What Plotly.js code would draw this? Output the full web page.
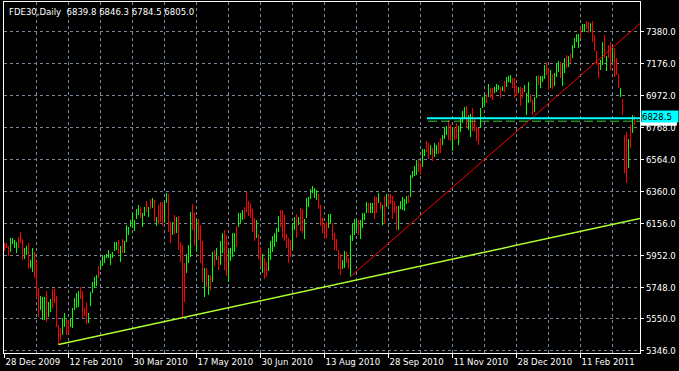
<!DOCTYPE html>
<html>
<head>
<meta charset="utf-8">
<script src="https://cdn.plot.ly/plotly-3.0.1.min.js"></script>
<style>html,body{margin:0;padding:0;background:#000;}#chart{width:679px;height:371px;}</style>
</head>
<body>
<div id="chart"></div>
<script>
const symbol = "FDE30";
const period = "Daily";

const open = [
6021,6027,6008,5989,6034,6008,5983,6059,6091,6047,
5945,5970,6015,5881,5881,5964,5900,5722,5620,5562,
5575,5709,5575,5607,5722,5728,5677,5499,5480,5461,
5511,5537,5531,5505,5511,5620,5632,5639,5741,5709,
5613,5639,5531,5645,5722,5754,5766,5875,5868,5894,
5913,5945,5945,
5906,5945,5989,5996,6040,5926,6047,5983,6053,6091,
6142,6142,6117,6193,6218,6250,6148,6212,6289,6206,
6301,6263,6295,6148,6263,6282,6282,6174,6295,6327,
6155,6097,6199,6110,6193,6027,6008,5894,5855,5919,
5970,6263,6212,5996,6174,6136,6034,5709,5862,5715,
5817,5798,5977,
5938,5938,5906,5983,6097,6066,5805,5926,5957,5989,
6129,6142,6168,6187,6257,6346,6295,6276,6238,6180,
6072,6078,5996,5855,5926,5900,5868,5938,5989,6015,
6047,6110,6231,6231,6199,6078,6053,6040,6002,6123,
6206,6155,6244,6238,6072,6206,6270,6320,6359,6327,
6314,6340,
6263,6180,6148,6155,6136,6168,6148,6085,6047,5977,
5951,5875,5887,5964,5926,5843,6059,6097,6123,6168,
6072,6136,6187,6231,6282,6231,6231,6320,6314,6295,
6289,6161,6320,6270,6333,6340,6320,6295,6257,6129,
6257,6250,6244,6289,6333,6333,6454,6467,6473,6556,
6543,6524,6595,
6677,6658,6601,6626,6595,6607,6671,6690,6665,6703,
6728,6805,6773,6633,6767,6786,6671,6747,6805,6837,
6894,6760,6722,6881,6824,6760,6754,6779,6900,6919,
6977,6970,7015,7015,6996,7002,7015,7021,7009,7060,
7034,7066,7060,7079,7079,7021,6996,7015,7015,7002,
6862,6939,6977,6932,6881,6970,7098,7028,7066,7085,
7181,7130,7034,7098,7040,7098,7130,7181,7047,7123,
7225,7161,7232,7219,7283,7321,7283,7404,7384,7384,
7442,7435,7384,7442,7346,7251,7181,7142,7181,7346,
7136,7289,7302,7193,7263,7200,7098,6970,6939,6703,
6728,6524,6773,6747,6839.8
];

const high = [
6034,6034,6015,6066,6066,6053,6040,6072,6104,6059,
6002,6015,6034,5926,6002,5977,5919,5747,5696,5690,
5690,5728,5658,5677,5741,5741,5696,5511,5492,5556,
5588,5550,5543,5550,5620,5683,5715,5728,5754,5728,
5620,5652,5588,5722,5785,5817,5830,5887,5913,5951,
5957,5964,5989,
5964,5977,6040,6040,6053,6015,6059,6047,6148,6136,
6180,6225,6180,6250,6276,6263,6225,6263,6301,6263,
6314,6320,6308,6199,6276,6295,6295,6295,6352,6346,
6168,6168,6212,6199,6206,6040,6021,5906,5964,6021,
6231,6282,6225,6187,6187,6148,6047,5875,5875,5830,
5830,5977,5989,
6002,5951,6047,6097,6117,6085,5996,6002,6097,6097,
6142,6225,6225,6244,6263,6359,6301,6289,6250,6193,
6180,6091,6008,5964,5938,5913,6002,6047,6078,6097,
6129,6206,6244,6244,6212,6091,6066,6053,6161,6199,
6218,6199,6257,6250,6187,6320,6327,6378,6397,6384,
6371,6346,
6276,6193,6161,6168,6218,6218,6161,6097,6059,5989,
5964,5926,5983,5977,5938,6085,6155,6187,6180,6180,
6180,6225,6225,6295,6289,6289,6289,6333,6327,6352,
6295,6276,6333,6346,6340,6346,6333,6301,6270,6270,
6301,6327,6314,6333,6340,6467,6492,6524,6563,6563,
6550,6633,6633,
6684,6671,6658,6639,6671,6658,6677,6703,6722,6773,
6779,6817,6786,6773,6773,6798,6779,6830,6875,6900,
6907,6849,6856,6894,6830,6773,6767,6894,6964,6977,
6983,7047,7021,7021,7028,7047,7040,7028,7034,7066,
7091,7098,7104,7085,7085,7028,7028,7028,7021,7040,
6989,7060,6983,6945,6964,7098,7104,7098,7098,7168,
7187,7142,7136,7110,7117,7174,7193,7187,7181,7212,
7232,7225,7238,7295,7340,7365,7365,7410,7429,7429,
7448,7442,7435,7448,7359,7257,7187,7200,7314,7359,
7225,7295,7314,7283,7276,7212,7110,7021,6951,6722,
6741,6696,6786,6849,6846.3
];

const low = [
5983,6002,5951,5977,6027,6002,5970,6002,6034,5926,
5932,5957,5868,5875,5849,5811,5683,5562,5607,5543,
5543,5531,5562,5594,5620,5652,5499,5384,5416,5448,
5499,5448,5454,5499,5492,5607,5620,5626,5677,5556,
5569,5518,5524,5632,5715,5747,5760,5811,5862,5887,
5906,5938,5938,
5894,5938,5983,5989,5964,5913,5970,5970,6040,6085,
6136,6129,6110,6187,6212,6193,6136,6206,6231,6199,
6250,6257,6168,6142,6155,6168,6142,6161,6289,6104,
6034,6085,6091,6097,5989,5913,5556,5658,5843,5906,
5945,6117,6015,5977,6053,5906,5785,5690,5754,5703,
5734,5785,5887,
5926,5862,5894,5970,5862,5824,5785,5919,5945,5977,
6008,6136,6161,6180,6187,6231,6206,6193,6104,6047,
6066,5932,5881,5843,5805,5817,5855,5926,5977,6008,
6040,6104,6136,6066,6047,6002,5906,5945,5989,6117,
6066,6148,6110,6097,6059,6193,6263,6314,6352,6320,
6308,6250,
6142,6097,6059,6066,6129,6161,6053,5989,5983,5868,
5830,5868,5875,5906,5868,5817,6047,6085,6117,6085,
6059,6129,6180,6225,6225,6225,6225,6187,6225,6289,
6250,6148,6155,6263,6270,6282,6187,6225,6117,6117,
6250,6244,6238,6282,6289,6327,6448,6461,6467,6486,
6467,6518,6588,
6614,6569,6595,6556,6582,6601,6601,6607,6658,6696,
6722,6690,6684,6620,6690,6696,6658,6741,6798,6830,
6767,6754,6709,6747,6747,6684,6658,6767,6894,6913,
6926,6964,6958,6945,6989,6996,7009,6958,7002,6996,
7028,7060,7053,7021,6958,6970,6989,6907,6958,6996,
6849,6926,6932,6849,6868,6958,7040,7021,7060,7079,
7104,7009,7021,7015,7034,7091,7123,7085,7034,7117,
7149,7155,7181,7212,7276,7314,7276,7340,7378,7378,
7397,7372,7378,7314,7257,7168,7085,7136,7168,7212,
7130,7212,7136,7187,7091,7104,7021,6964,6849,6480,
6416,6512,6639,6735,6784.5
];

const close = [
5996,6008,5964,6053,6059,6047,6027,6015,6047,5945,
5989,6002,5887,5913,5983,5830,5709,5594,5683,5677,
5671,5550,5645,5664,5632,5664,5518,5403,5429,5543,
5575,5461,5467,5543,5607,5671,5703,5715,5690,5575,
5575,5531,5581,5709,5773,5805,5817,5824,5900,5938,
5945,5957,5983,
5957,5970,6034,6034,5977,6002,5983,6034,6136,6123,
6174,6212,6168,6238,6263,6206,6212,6257,6244,6250,
6263,6308,6180,6187,6168,6180,6155,6282,6340,6123,
6047,6155,6104,6187,6002,5926,5594,5677,5951,6008,
6212,6129,6027,6174,6066,5926,5805,5862,5766,5817,
5747,5964,5900,
5996,5875,6034,6085,5887,5843,5983,5989,6085,6085,
6021,6218,6212,6238,6193,6238,6212,6206,6117,6059,
6168,5945,5894,5951,5817,5830,5989,6034,6066,6085,
6117,6193,6148,6078,6059,6015,5919,5957,6148,6193,
6078,6193,6123,6110,6174,6308,6320,6371,6391,6378,
6365,6263,
6155,6110,6072,6078,6206,6212,6066,6002,5996,5881,
5843,5913,5970,5919,5881,6066,6142,6174,6174,6097,
6168,6218,6218,6282,6231,6282,6276,6199,6231,6346,
6257,6263,6168,6340,6276,6289,6199,6231,6129,6257,
6295,6320,6308,6327,6295,6454,6486,6518,6556,6492,
6473,6620,6626,
6633,6588,6652,6569,6658,6652,6614,6620,6716,6767,
6773,6703,6696,6760,6703,6709,6767,6824,6868,6894,
6779,6843,6843,6760,6760,6696,6671,6881,6958,6970,
6932,7040,6964,6951,7021,7040,7034,6964,7028,7002,
7085,7091,7098,7028,6970,6977,7021,6919,6964,7034,
6977,7047,6939,6862,6951,7085,7047,7091,7091,7161,
7110,7021,7123,7028,7110,7168,7187,7098,7168,7206,
7161,7219,7187,7289,7333,7359,7353,7346,7423,7423,
7404,7378,7429,7327,7270,7174,7098,7193,7302,7225,
7219,7225,7155,7276,7110,7117,7034,7015,6862,6499,
6435,6684,6658,6837,6805.0
];

// x-axis date labels (bar index where each label sits)
const dateTickIdx = [0, 32, 64, 96, 128, 160, 192, 224, 256, 288];
const dateTickText = ["28 Dec 2009","12 Feb 2010","30 Mar 2010","17 May 2010","30 Jun 2010",
                      "13 Aug 2010","28 Sep 2010","11 Nov 2010","28 Dec 2010","11 Feb 2011"];

// price scale labels
const priceTicks = [5346, 5550, 5748, 5952, 6156, 6360, 6564, 6768, 6972, 7176, 7380];
const priceTickText = ["5346.0","5550.0","5748.0","5952.0","6156.0","6360.0","6564.0","6768.0","6972.0","7176.0","7380.0"];

// drawn objects (bar index, price)
const supportX = [27, 317.75];
const supportY = [5387, 6190];
const trendX = [173, 317.75];
const trendY = [5820, 7432];
const levelX = [211.25, 317.75];
const levelPrice = 6828.5;
const dashLevelX = [211.75, 317.75];
const dashLevelPrice = 6810;

const barIdx = close.map((_, i) => i);
const last = close.length - 1;

const FONT = "DejaVu Sans Condensed, Liberation Sans, sans-serif";

const traces = [
  {
    type: "ohlc",
    x: barIdx, open: open, high: high, low: low, close: close,
    increasing: {line: {color: "#00ff00", width: 1}},
    decreasing: {line: {color: "#ff0000", width: 1}},
    tickwidth: 0,
    hoverinfo: "skip",
    showlegend: false
  },
  {
    type: "scatter", mode: "lines",
    x: supportX, y: supportY,
    line: {color: "#adff2f", width: 1.5},
    hoverinfo: "skip", showlegend: false
  },
  {
    type: "scatter", mode: "lines",
    x: trendX, y: trendY,
    line: {color: "#ff0000", width: 1},
    hoverinfo: "skip", showlegend: false
  },
  {
    type: "scatter", mode: "lines",
    x: dashLevelX, y: [dashLevelPrice, dashLevelPrice],
    line: {color: "#32cd32", width: 1, dash: "9px,4px"},
    hoverinfo: "skip", showlegend: false
  },
  {
    type: "scatter", mode: "lines",
    x: levelX, y: [levelPrice, levelPrice],
    line: {color: "#00ffff", width: 2},
    hoverinfo: "skip", showlegend: false
  }
];

const gridColor = "#778899";

const layout = {
  width: 679, height: 371,
  margin: {l: 4, r: 39, t: 2, b: 18, pad: 0},
  paper_bgcolor: "#000000",
  plot_bgcolor: "#000000",
  font: {family: FONT, size: 9.5, color: "#ffffff"},
  showlegend: false,
  xaxis: {
    range: [-0.25, 317.75],
    tickmode: "array",
    tickvals: dateTickIdx,
    ticktext: dateTickText,
    ticks: "outside", ticklen: 4, tickcolor: "#ffffff", tickwidth: 1,
    ticklabelposition: "outside right",
    tickfont: {family: FONT, size: 9.5, color: "#ffffff"},
    showgrid: true, gridcolor: gridColor, griddash: "3px,3px", gridwidth: 1,
    minor: {tickmode: "linear", tick0: 0, dtick: 16, showgrid: true,
            gridcolor: gridColor, griddash: "3px,3px", gridwidth: 1, ticks: ""},
    showline: true, linecolor: "#ffffff", linewidth: 1, mirror: true,
    zeroline: false,
    rangeslider: {visible: false},
    fixedrange: true
  },
  yaxis: {
    side: "right",
    range: [5333.0, 7569.3],
    tickmode: "array",
    tickvals: priceTicks,
    ticktext: priceTickText,
    ticks: "outside", ticklen: 3, tickcolor: "#ffffff", tickwidth: 1,
    tickfont: {family: FONT, size: 9.5, color: "#ffffff"},
    showgrid: true, gridcolor: gridColor, griddash: "3px,3px", gridwidth: 1,
    showline: true, linecolor: "#ffffff", linewidth: 1, mirror: true,
    zeroline: false,
    fixedrange: true
  },
  shapes: [
    {
      type: "rect", xref: "paper", yref: "paper",
      x0: 1.0016, x1: 1.058, y0: 0.6476, y1: 0.6585,
      fillcolor: "#ffffff", line: {width: 0}, layer: "above"
    }
  ],
  annotations: [
    {
      xref: "paper", yref: "paper", x: 0.005, y: 1, xanchor: "left", yanchor: "top",
      yshift: -2, showarrow: false, align: "left",
      text: symbol + "," + period + "\u00a0\u00a0" + open[last].toFixed(1) + " " + high[last].toFixed(1) + " " +
            low[last].toFixed(1) + " " + close[last].toFixed(1),
      font: {family: FONT, size: 9.5, color: "#ffffff"}
    },
    {
      xref: "paper", yref: "y", x: 1, y: levelPrice, xanchor: "left", yanchor: "middle",
      xshift: 1, yshift: 2, showarrow: false, text: levelPrice.toFixed(1),
      bgcolor: "#00ffff", font: {family: FONT, size: 9.5, color: "#000000"},
      width: 36, height: 11, borderpad: 0, align: "left"
    }
  ]
};

Plotly.newPlot("chart", traces, layout, {staticPlot: true, displayModeBar: false});
</script>
</body>
</html>
